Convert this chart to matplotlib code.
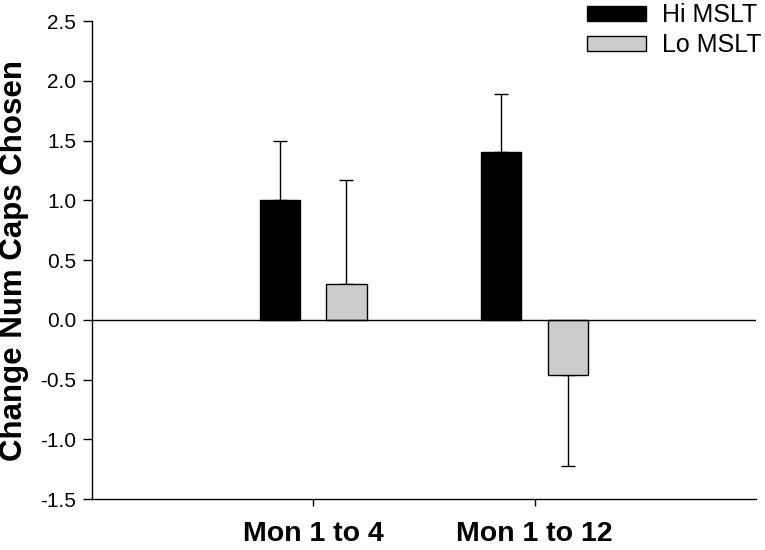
import matplotlib
matplotlib.use("Agg")
import matplotlib.pyplot as plt
import numpy as np

plt.rcParams["font.family"] = ["Liberation Sans", "DejaVu Sans"]

categories = ["Mon 1 to 4", "Mon 1 to 12"]
series_names = ["Hi MSLT", "Lo MSLT"]
hi_values = [1.0, 1.4]
hi_errors = [0.50, 0.49]
lo_values = [0.30, -0.46]
lo_errors = [0.87, 0.76]
y_ticks = [-1.5, -1.0, -0.5, 0.0, 0.5, 1.0, 1.5, 2.0, 2.5]

fig = plt.figure(figsize=(7.65, 5.5), dpi=100)
ax = fig.add_axes([0.1203, 0.0927, 0.8677, 0.8691])

x = np.arange(len(categories))
width = 0.181
offset = 0.15

# one-sided error bars pointing away from zero
hi_err = [[0 if v >= 0 else e for v, e in zip(hi_values, hi_errors)],
          [e if v >= 0 else 0 for v, e in zip(hi_values, hi_errors)]]
lo_err = [[0 if v >= 0 else e for v, e in zip(lo_values, lo_errors)],
          [e if v >= 0 else 0 for v, e in zip(lo_values, lo_errors)]]

ax.bar(x - offset, hi_values, width, color="black", edgecolor="black",
       linewidth=1, label=series_names[0], zorder=2)
ax.bar(x + offset, lo_values, width, color="#cccccc", edgecolor="black",
       linewidth=1, label=series_names[1], zorder=2)
ax.errorbar(x - offset, hi_values, yerr=hi_err, fmt="none", ecolor="black",
            elinewidth=1, capsize=4.7, capthick=1, zorder=1)
ax.errorbar(x + offset, lo_values, yerr=lo_err, fmt="none", ecolor="black",
            elinewidth=1, capsize=4.7, capthick=1, zorder=1)

ax.axhline(0, color="black", linewidth=1, zorder=3)

ax.set_xlim(-1, 2)
ax.set_ylim(-1.5, 2.5)
ax.set_yticks(y_ticks)
ax.set_yticklabels([f"{t:.1f}" for t in y_ticks], fontsize=15)
ax.set_xticks(x)
ax.set_xticklabels(categories, fontsize=20.5, fontweight="bold")
ax.tick_params(axis="x", length=5, width=1, pad=11)
ax.tick_params(axis="y", length=6.5, width=1, pad=5)
ax.set_ylabel("Change Num Caps Chosen", fontsize=22.5, fontweight="bold", labelpad=8)

for side in ["top", "right"]:
    ax.spines[side].set_visible(False)
for side in ["left", "bottom"]:
    ax.spines[side].set_linewidth(1)

fig.legend(loc="upper right", bbox_to_anchor=(1.025, 1.035), frameon=False,
           fontsize=18, handlelength=2.36, handleheight=0.56, handletextpad=0.64,
           labelspacing=0.25)

fig.savefig("out.png", dpi=100)
